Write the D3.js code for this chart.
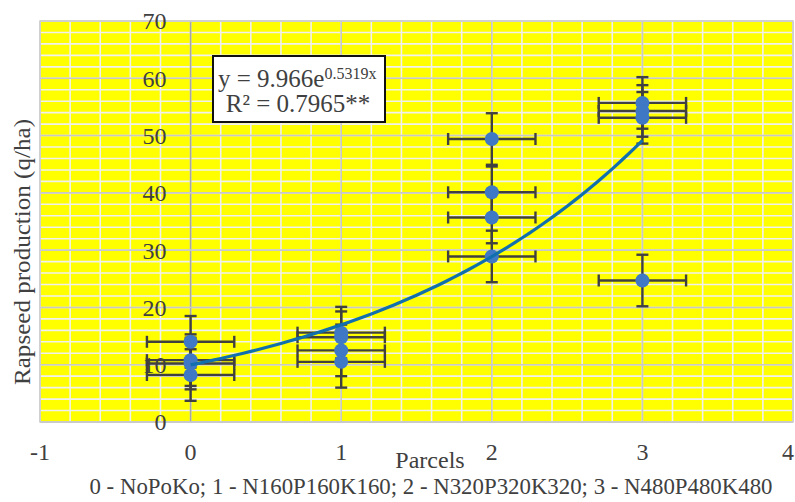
<!DOCTYPE html>
<html>
<head>
<meta charset="utf-8">
<script src="https://cdn.jsdelivr.net/npm/d3@7"></script>
<style>
  html, body { margin: 0; padding: 0; background: #fff; }
  svg { display: block; }
</style>
</head>
<body>
<script>
// parcel index of each point and its yield (q/ha)
const parcels = [0, 0, 0, 0, 1, 1, 1, 1, 2, 2, 2, 2, 3, 3, 3, 3]
const yields = [14.0, 10.8, 10.2, 8.2, 15.6, 14.8, 12.5, 10.5, 49.4, 40.1, 35.7, 28.9, 55.7, 54.3, 53.1, 24.7]
const yErr = 4.5
const xErr = 0.29
const xTicks = [-1, 0, 1, 2, 3, 4]
const yTicks = [0, 10, 20, 30, 40, 50, 60, 70]
const fitA = 9.966
const fitB = 0.5319

const width = 795
const height = 502
const plotL = 40, plotR = 793, plotT = 21, plotB = 422
const font = '"Liberation Serif", "Times New Roman", serif'
const textColor = '#404040'

var svg = d3.select('body')
  .append('svg')
  .attr('width', width)
  .attr('height', height)

var x = d3.scaleLinear().domain([-1, 4]).range([plotL, plotR])
var y = d3.scaleLinear().domain([0, 70]).range([plotB, plotT])

// plot background
svg.append('rect')
  .attr('x', plotL).attr('y', plotT)
  .attr('width', plotR - plotL).attr('height', plotB - plotT)
  .attr('fill', '#ffff00')

// minor grid
svg.append('g')
  .selectAll('line')
  .data(d3.range(-1, 4.001, 0.2))
  .join('line')
  .attr('x1', d => x(d)).attr('x2', d => x(d))
  .attr('y1', plotT).attr('y2', plotB)
  .attr('stroke', '#f0f0f0')
  .attr('stroke-width', 1.6)

svg.append('g')
  .selectAll('line')
  .data(d3.range(0, 70.001, 2))
  .join('line')
  .attr('x1', plotL).attr('x2', plotR)
  .attr('y1', d => y(d)).attr('y2', d => y(d))
  .attr('stroke', '#f0f0f0')
  .attr('stroke-width', 1.6)

// major grid
svg.append('g')
  .selectAll('line')
  .data(xTicks)
  .join('line')
  .attr('x1', d => x(d)).attr('x2', d => x(d))
  .attr('y1', plotT).attr('y2', plotB)
  .attr('stroke', d => d === 0 ? '#a6a6a6' : '#c8c8c8')
  .attr('stroke-width', 1.6)

svg.append('g')
  .selectAll('line')
  .data(yTicks)
  .join('line')
  .attr('x1', plotL).attr('x2', plotR)
  .attr('y1', d => y(d)).attr('y2', d => y(d))
  .attr('stroke', d => d === 0 ? '#a6a6a6' : '#c8c8c8')
  .attr('stroke-width', 1.6)

svg.append('rect')
  .attr('x', plotL).attr('y', plotT)
  .attr('width', plotR - plotL).attr('height', plotB - plotT)
  .attr('fill', 'none')
  .attr('stroke', '#d0d0d0')
  .attr('stroke-width', 1.5)

// tick labels
svg.append('g')
  .selectAll('text')
  .data(yTicks)
  .join('text')
  .attr('x', x(0) - 24)
  .attr('y', d => y(d))
  .attr('dy', '0.35em')
  .attr('text-anchor', 'end')
  .attr('font-family', font)
  .attr('font-size', 24)
  .attr('fill', textColor)
  .text(d => d)

svg.append('g')
  .selectAll('text')
  .data(xTicks)
  .join('text')
  .attr('x', d => Math.min(x(d), 788))
  .attr('y', 460)
  .attr('text-anchor', 'middle')
  .attr('font-family', font)
  .attr('font-size', 24)
  .attr('fill', textColor)
  .text(d => d)

// error bars
var points = parcels.map((p, i) => ({ p: p, v: yields[i] }))
var bars = svg.append('g')
  .attr('stroke', '#404040')
  .attr('stroke-width', 2.4)

points.forEach(d => {
  bars.append('line')
    .attr('x1', x(d.p)).attr('x2', x(d.p))
    .attr('y1', y(d.v - yErr)).attr('y2', y(d.v + yErr))
  bars.append('line')
    .attr('x1', x(d.p) - 6).attr('x2', x(d.p) + 6)
    .attr('y1', y(d.v - yErr)).attr('y2', y(d.v - yErr))
  bars.append('line')
    .attr('x1', x(d.p) - 6).attr('x2', x(d.p) + 6)
    .attr('y1', y(d.v + yErr)).attr('y2', y(d.v + yErr))
  bars.append('line')
    .attr('x1', x(d.p - xErr)).attr('x2', x(d.p + xErr))
    .attr('y1', y(d.v)).attr('y2', y(d.v))
  bars.append('line')
    .attr('x1', x(d.p - xErr)).attr('x2', x(d.p - xErr))
    .attr('y1', y(d.v) - 6).attr('y2', y(d.v) + 6)
  bars.append('line')
    .attr('x1', x(d.p + xErr)).attr('x2', x(d.p + xErr))
    .attr('y1', y(d.v) - 6).attr('y2', y(d.v) + 6)
})

// markers
svg.append('g')
  .selectAll('circle')
  .data(points)
  .join('circle')
  .attr('cx', d => x(d.p))
  .attr('cy', d => y(d.v))
  .attr('r', 7)
  .attr('fill', '#3f78c4')

// exponential trendline from the fitted equation
var fitX = d3.range(0, 3.001, 0.05)
svg.append('path')
  .datum(fitX)
  .attr('d', d3.line().x(d => x(d)).y(d => y(fitA * Math.exp(fitB * d))).curve(d3.curveMonotoneX))
  .attr('fill', 'none')
  .attr('stroke', '#126fae')
  .attr('stroke-width', 3.2)

// equation box
svg.append('rect')
  .attr('x', 213).attr('y', 56)
  .attr('width', 172).attr('height', 66)
  .attr('fill', '#fff')
  .attr('stroke', '#111')
  .attr('stroke-width', 2)

var eq = svg.append('text')
  .attr('x', 218).attr('y', 87)
  .attr('font-family', font)
  .attr('font-size', 25)
  .attr('fill', textColor)
eq.append('tspan').text('y = 9.966e')
eq.append('tspan')
  .attr('dy', -8)
  .attr('font-size', 16)
  .text('0.5319x')

svg.append('text')
  .attr('x', 298).attr('y', 112)
  .attr('text-anchor', 'middle')
  .attr('font-family', font)
  .attr('font-size', 25)
  .attr('fill', textColor)
  .text('R² = 0.7965**')

// axis titles
svg.append('text')
  .attr('transform', 'translate(30, 252) rotate(-90)')
  .attr('text-anchor', 'middle')
  .attr('font-family', font)
  .attr('font-size', 24)
  .attr('fill', textColor)
  .attr('textLength', 266)
  .attr('lengthAdjust', 'spacingAndGlyphs')
  .text('Rapseed production (q/ha)')

svg.append('text')
  .attr('x', 430).attr('y', 468)
  .attr('text-anchor', 'middle')
  .attr('font-family', font)
  .attr('font-size', 24)
  .attr('fill', textColor)
  .text('Parcels')

svg.append('text')
  .attr('x', 431).attr('y', 494)
  .attr('text-anchor', 'middle')
  .attr('font-family', font)
  .attr('font-size', 23)
  .attr('fill', textColor)
  .attr('textLength', 683)
  .attr('lengthAdjust', 'spacingAndGlyphs')
  .text('0 - NoPoKo; 1 - N160P160K160; 2 - N320P320K320; 3 - N480P480K480')
</script>
</body>
</html>
